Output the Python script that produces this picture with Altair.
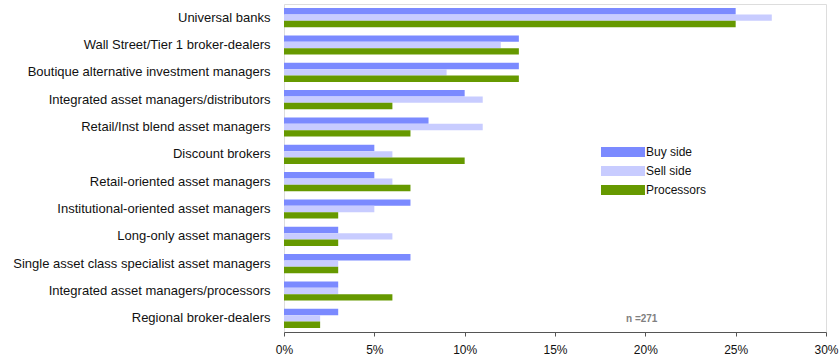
import altair as alt
import pandas as pd

categories = [
    "Universal banks",
    "Wall Street/Tier 1 broker-dealers",
    "Boutique alternative investment managers",
    "Integrated asset managers/distributors",
    "Retail/Inst blend asset managers",
    "Discount brokers",
    "Retail-oriented asset managers",
    "Institutional-oriented asset managers",
    "Long-only asset managers",
    "Single asset class specialist asset managers",
    "Integrated asset managers/processors",
    "Regional broker-dealers",
]
buy_side = [25, 13, 13, 10, 8, 5, 5, 7, 3, 7, 3, 3]
sell_side = [27, 12, 9, 11, 11, 6, 6, 5, 6, 3, 3, 2]
processors = [25, 13, 13, 6, 7, 10, 7, 3, 3, 3, 6, 2]
series = ["Buy side", "Sell side", "Processors"]
colors = ["#7B8AFF", "#C8CCFF", "#669900"]
x_ticks = [0, 5, 10, 15, 20, 25, 30]
note = "n =271"

rows = []
for name, vals in zip(series, [buy_side, sell_side, processors]):
    for c, v in zip(categories, vals):
        rows.append({"category": c, "series": name, "value": v / 100})
df = pd.DataFrame(rows)

y_enc = alt.Y(
    "category:N",
    sort=categories,
    scale=alt.Scale(paddingInner=0.3, paddingOuter=0.15),
    axis=alt.Axis(
        title=None, domain=False, ticks=False, labelPadding=14,
        labelFontSize=13, labelLimit=320, labelColor="#111111",
        labelFont="Liberation Sans",
    ),
)
x_enc_scale = alt.Scale(domain=[0, 0.3], nice=False)

bars = alt.Chart(df).mark_bar(strokeWidth=0).encode(
    x=alt.X(
        "value:Q",
        scale=x_enc_scale,
        axis=alt.Axis(
            values=[t / 100 for t in x_ticks], format=".0%", grid=False,
            title=None, domainColor="#555555", tickColor="#555555",
            tickSize=4, labelFontSize=12, labelColor="#111111",
            labelPadding=8, labelFlush=False, labelFont="Liberation Sans",
        ),
    ),
    y=y_enc,
    yOffset=alt.YOffset("series:N", sort=series),
    color=alt.Color(
        "series:N",
        sort=series,
        scale=alt.Scale(domain=series, range=colors),
        legend=alt.Legend(
            title=None, orient="none", legendX=316, legendY=142,
            symbolType="M-1,-1H7.8V1H-1Z", symbolSize=100,
            symbolStrokeWidth=0, labelFontSize=12, labelOffset=34,
            labelFont="Liberation Sans", labelColor="#111111",
            rowPadding=7, padding=0,
        ),
    ),
)

note_df = pd.DataFrame({"label": [note], "x": [0.198], "category": [categories[-1]]})
text = alt.Chart(note_df).mark_text(
    fontWeight="bold", fontSize=10, color="#808080", font="Liberation Sans", dy=1
).encode(
    x=alt.X("x:Q", scale=x_enc_scale),
    y=alt.Y("category:N", sort=categories),
    text="label:N",
)

chart = alt.layer(bars, text).properties(
    width=542, height=328,
    autosize=alt.AutoSizeParams(type="none"),
    padding={"left": 284, "top": 4, "right": 13, "bottom": 24},
).configure_view(stroke=None).configure(font="Liberation Sans")

chart.save("out.html", embed_options={"renderer": "svg", "actions": False})
